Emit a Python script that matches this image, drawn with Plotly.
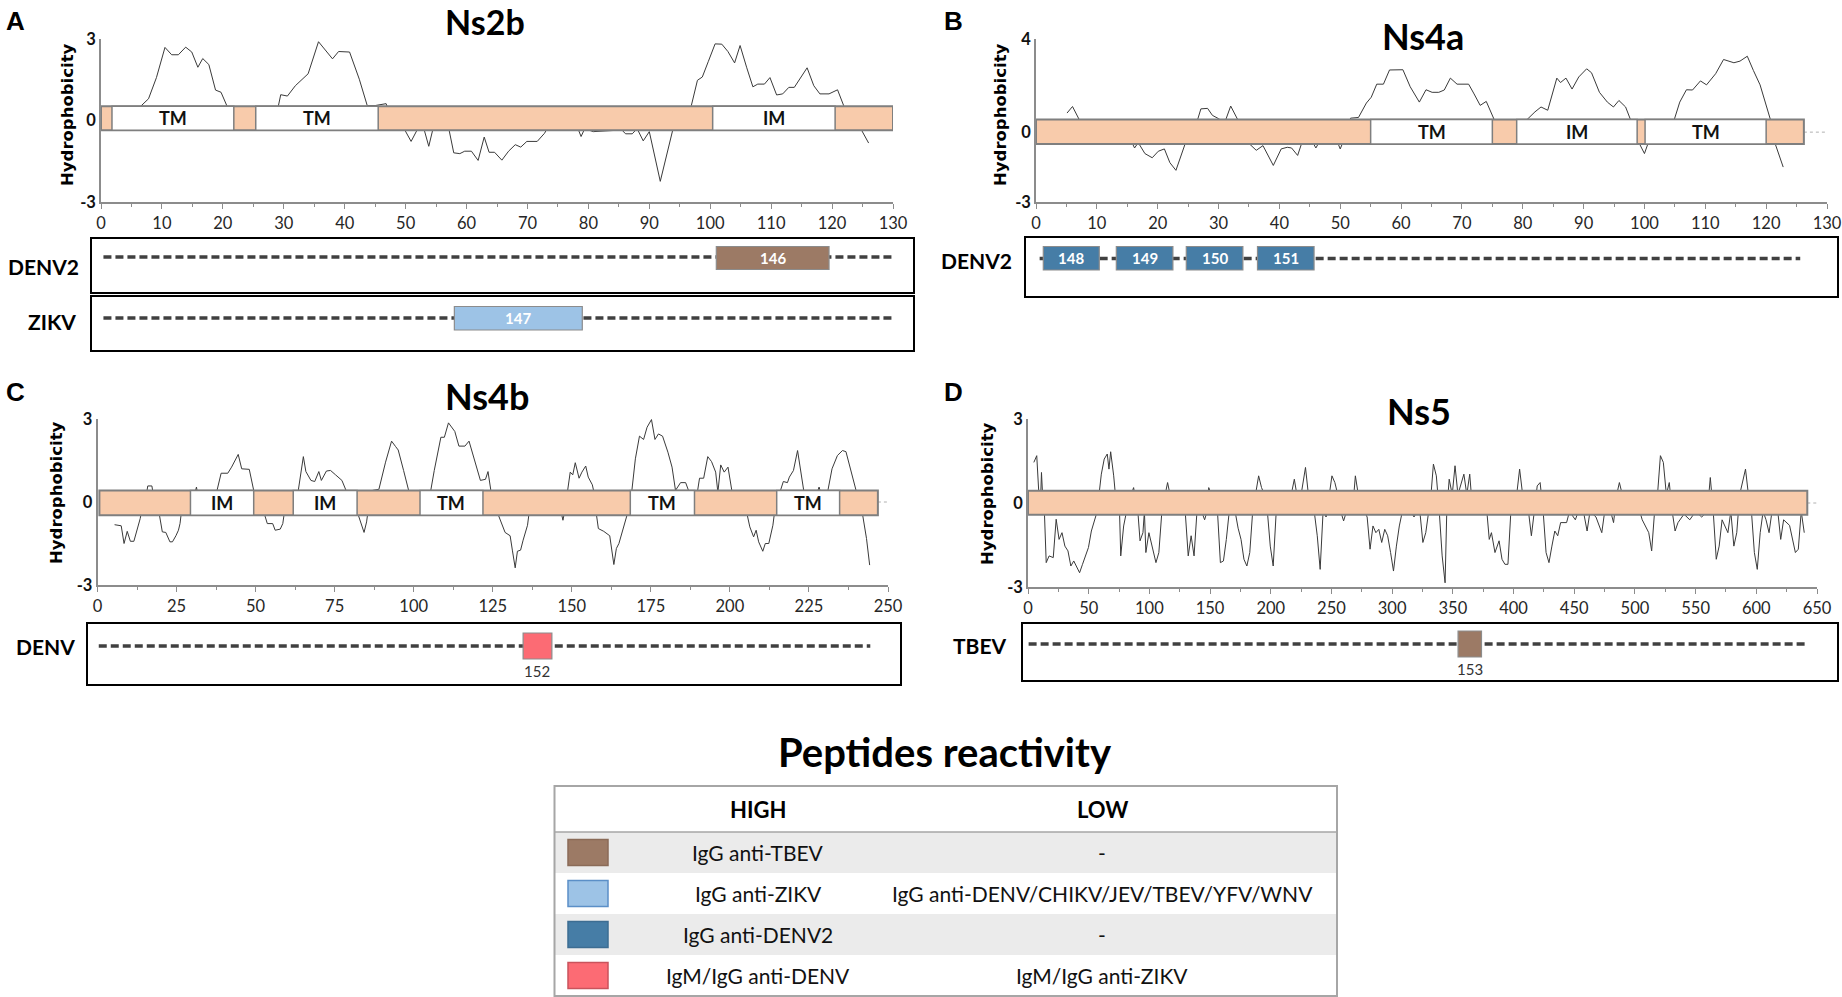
import plotly.graph_objects as go

W, H = 1842, 997

# ---------------- data ----------------
PANEL_TITLES = ["Ns2b", "Ns4a", "Ns4b", "Ns5"]
PANEL_LETTERS = ["A", "B", "C", "D"]
X_MAX = [130, 130, 250, 650]
X_MAJOR = [10, 10, 25, 50]
Y_MIN = [-3, -3, -3, -3]
Y_MAX = [3, 4, 3, 3]

NS2B_PROFILE = [(5, 0.2), (6.8, 0.59), (7.8, 0.8), (9.1, 1.58), (10.5, 2.69), (11.6, 2.42), (12.7, 2.42),
                (13.9, 2.7), (14.9, 2.52), (15.9, 1.96), (16.7, 2.28), (17.7, 2.06), (18.8, 1.12), (19.7, 1.04),
                (20.7, 0.52), (21.5, 0.2), (25, 0.1), (28.5, 0.3), (29.1, 0.52), (29.5, 0.95), (30.6, 0.9),
                (31.9, 1.28), (34, 1.72), (35.7, 2.9), (38, 2.27), (39, 2.54), (40.8, 2.52), (42.4, 1.52),
                (43.7, 0.55), (45, 0.55), (46.8, 0.62), (47.5, 0.2), (49.5, -0.2), (50.9, -0.77), (52, -0.3),
                (53, -0.3), (53.8, -0.95), (54.5, -0.3), (57, -0.2), (57.9, -1.19), (58.9, -1.22), (59.7, -1.13),
                (60.8, -1.13), (61.9, -1.47), (62.9, -0.61), (63.7, -1.17), (64.6, -1.17), (65.8, -1.46),
                (66.9, -1.13), (68, -0.89), (68.9, -0.98), (69.9, -0.77), (71.6, -0.77), (72.8, -0.47),
                (73.5, -0.2), (78.2, -0.25), (78.8, -0.59), (79.4, -0.3), (80.8, -0.41), (85.5, -0.35),
                (86.1, -0.49), (87.2, -0.49), (88, -0.3), (89, -0.75), (90, -0.41), (91.8, -2.24), (93.9, -0.3),
                (96, 0.2), (96.9, 0.55), (97.9, 1.48), (98.7, 1.6), (99.7, 2.18), (100.8, 2.82), (101.9, 2.81),
                (102.9, 2.54), (104, 2.12), (104.9, 2.76), (106, 1.94), (107, 1.24), (107.8, 1.34), (108.9, 1.34),
                (109.8, 1.58), (110.9, 0.94), (111.9, 0.98), (112.9, 1.22), (113.8, 1.22), (115.9, 1.94),
                (117, 1.28), (118, 0.98), (119.5, 0.98), (120.9, 1.13), (121.9, 0.55), (123, 0.1), (124.7, -0.3),
                (126, -0.83)]

NS4A_PROFILE = [(5.1, 0.82), (6.0, 1.1), (7.1, 0.54), (8, 0.2), (12, 0), (15.5, -0.3), (16.2, -0.68),
                (16.8, -0.45), (17.9, -0.92), (19.1, -1.10), (20.1, -0.82), (21.1, -0.72), (22, -1.31),
                (23, -1.64), (24.5, -0.51), (25, -0.2), (26.4, 0.4), (27.1, 1.0), (28.2, 1.02), (29, 0.72),
                (30, 0.58), (31, 0.4), (32, 1.12), (33, 0.63), (33.5, 0.4), (34.8, -0.3), (35.1, -0.51),
                (36.2, -0.78), (37.3, -0.58), (39, -1.43), (40.3, -0.72), (41.3, -0.65), (42, -0.68), (43, -1.0),
                (43.7, -0.45), (44.5, -0.3), (45.5, -0.45), (46, -0.68), (46.6, -0.4), (49.5, -0.4), (50, -0.72),
                (50.5, -0.4), (51.5, 0.45), (51.7, 0.6), (53, 0.63), (54.3, 1.25), (55.1, 1.5), (56, 2.06),
                (57.1, 2.06), (58.1, 2.67), (60.3, 2.68), (61.5, 1.95), (63, 1.29), (64.1, 1.82), (65.1, 1.71),
                (66.2, 1.71), (67.1, 1.81), (68.1, 2.32), (69.2, 2.06), (71.1, 2.06), (72, 1.64), (73, 1.15),
                (74, 1.32), (75.3, 0.54), (78, 0.1), (80.7, 0.54), (82, 0.87), (83, 1.08), (84.1, 0.94),
                (84.9, 1.67), (85.6, 2.32), (86.2, 2.13), (87.1, 2.32), (88.1, 1.85), (89.2, 2.37), (90.5, 2.72),
                (91.3, 2.55), (92.6, 1.71), (93.9, 1.29), (94.9, 1.08), (95.8, 1.36), (96.9, 1.08), (97.7, 0.54),
                (98.6, -0.3), (99.2, -0.51), (100, -0.92), (100.7, -0.4), (103, 0.1), (104.9, 0.54), (105.8, 1.29),
                (106.9, 1.82), (107.9, 1.81), (109.2, 2.2), (110.2, 2.03), (111.7, 2.51), (113, 3.12),
                (114.7, 2.98), (115.7, 3.05), (116.9, 3.26), (117.9, 2.65), (119, 2.03), (120.7, 0.54),
                (121.3, -0.3), (121.5, -0.51), (122.8, -1.5)]

NS4B_PROFILE = [(5.4, -0.82), (7.5, -0.86), (8.4, -1.5), (9.4, -1.06), (10.4, -1.42), (11.5, -1.42),
                (13.5, -0.6), (14, -0.3), (15.5, 0.3), (15.9, 0.58), (17.2, 0.58), (17.6, 0.3), (19, -0.3),
                (19.6, -0.48), (20.5, -1.08), (21.6, -1.1), (22.9, -1.44), (23.7, -1.44), (24.8, -1.22),
                (25.6, -1.02), (26.1, -0.78), (26.6, -0.3), (30.5, 0.2), (31.3, 0.54), (31.8, 0.2), (35, -0.2),
                (37.5, 0.3), (37.8, 0.42), (39.1, 1.04), (41.2, 1.04), (42.4, 1.26), (44.5, 1.72), (45.6, 1.2),
                (48, 1.18), (49.4, 0.42), (51, 0), (52.9, -0.48), (53.7, -0.78), (55.4, -0.78), (56.2, -1.02),
                (57.8, -0.98), (58.6, -0.78), (59.2, -0.3), (62, 0.1), (63.5, 0.42), (65.1, 1.64), (65.9, 1.1),
                (67.5, 0.78), (68.7, 0.74), (70, 1.1), (70.8, 0.78), (72.4, 1.12), (73.7, 1.14), (75.3, 0.98),
                (77.3, 0.78), (78.6, 0.42), (81, 0), (82.5, -0.48), (84.3, -1.1), (85.1, -0.72), (85.6, -0.3),
                (87, 0.42), (89, 0.46), (91.1, 1.44), (93, 2.2), (94.3, 2.0), (95.1, 1.88), (96.8, 1.14),
                (98.4, 0.42), (101, 0.1), (104, 0.2), (105.4, 0.42), (106.5, 1.14), (108.6, 2.34), (109.7, 2.34),
                (111, 2.86), (113, 2.55), (114.3, 2.02), (116.2, 2.02), (117.5, 2.2), (119.2, 1.5), (121.1, 0.78),
                (122.7, 0.82), (123.5, 1.1), (124.4, 0.42), (125.5, 0), (126.8, -0.48), (128.9, -1.1),
                (130.5, -1.22), (131.2, -1.74), (132.1, -2.38), (132.8, -1.78), (133.8, -1.74), (134.6, -1.38),
                (136, -0.84), (136.6, -0.3), (142, 0), (146.5, -0.3), (147.2, -0.66), (147.8, -0.3), (148.7, 0.42),
                (149.5, 1.08), (150.3, 0.98), (151.1, 1.42), (152.3, 0.86), (153.2, 1.08), (154.4, 1.3),
                (155.2, 0.9), (156.5, 0.62), (157.1, 0.3), (157.6, -0.3), (158.4, -0.96), (160.1, -1.06),
                (162, -1.22), (163.3, -2.26), (164.1, -1.68), (164.9, -1.5), (166.6, -0.84), (167.9, -0.3),
                (169, 0.42), (170.1, 1.56), (171.4, 2.38), (172.7, 2.26), (173.8, 2.7), (175.2, 2.98),
                (176.3, 2.26), (177.4, 2.46), (178.7, 2.38), (180.4, 1.8), (181.7, 1.26), (182.8, 0.42),
                (184.4, 0.7), (186, 0.7), (187.3, 0.3), (189.2, 0.3), (189.8, 0.42), (190.4, 0.86), (191.7, 0.86),
                (193, 1.64), (194.2, 1.46), (195.5, 1.08), (196.2, 0.35), (197.1, 1.34), (198.2, 1.08),
                (199.4, 1.26), (200.6, 0.42), (203, 0), (205.5, -0.48), (206.3, -0.9), (207.5, -1.26),
                (208.3, -1.02), (209.1, -1.44), (210.4, -1.78), (211.2, -1.5), (212.3, -1.5), (213.6, -0.84),
                (214.2, -0.3), (215.5, 0.3), (216, 0.42), (216.9, 0.74), (218.2, 0.7), (218.8, 0.9), (220.1, 1.14),
                (221.4, 1.86), (222.6, 0.96), (223.5, 0.3), (227.5, 0.3), (228.2, 0.54), (228.8, 0.3), (230.5, 0.3),
                (231, 0.42), (232.3, 1.2), (234, 1.68), (235.6, 1.86), (236.7, 1.82), (238.8, 0.84), (239.9, 0.42),
                (241, 0), (242, -0.48), (243.2, -1.32), (244.2, -2.28)]

NS5_PROFILE = [(4.8, 1.45), (7.2, 1.69), (9, 0.3), (10.5, 0.3), (11.1, 1.09), (12, 0.3), (13.5, -0.3),
               (15, -2.13), (17.4, -1.89), (20.8, -1.95), (23.2, -0.58), (25.6, -1.3), (28, -1.06), (30.4, -1.54),
               (32.9, -1.71), (35.3, -2.25), (37.7, -2.07), (40.1, -2.31), (42.5, -2.49), (44.9, -2.19),
               (49.8, -1.59), (52.2, -1.0), (56.1, -0.46), (57, -0.3), (58.5, 0.3), (60.4, 1.03), (62.8, 1.57),
               (65.3, 1.75), (66.7, 1.21), (68.1, 1.83), (70.6, 0.97), (72, 0.3), (75.4, -0.3), (76.4, -1.89),
               (78.8, -0.82), (81.2, -0.3), (85, 0.3), (87, 0.55), (88, 0.3), (90.5, -0.3), (92.3, -1.35),
               (94.7, -1.06), (95.9, -0.3), (97.1, -1.77), (99.6, -1.06), (102, -1.47), (105.4, -2.13),
               (107.8, -1.77), (110.3, -0.3), (113, 0.3), (115, 0.73), (117, 0.3), (129.5, -0.3), (132, -1.89),
               (134.4, -1.17), (136.8, -1.89), (139.2, -0.3), (143, -0.3), (145.5, -0.6), (147.5, -0.3),
               (148.9, 0.55), (151, 0.3), (156.1, -0.3), (158.5, -2.13), (161, -2.07), (163.4, -1.3),
               (165.8, -0.3), (170.6, -0.3), (173.1, -0.9), (175.5, -1.3), (177.9, -2.01), (180.3, -2.25),
               (182.7, -1.77), (185.1, -0.3), (187.5, 0.3), (190, 0.97), (192.4, 0.55), (194.8, 0.3),
               (197.2, -0.3), (199.6, -1.54), (202, -2.25), (204.5, -0.3), (206.9, 0.3), (211.7, 0.3),
               (214.1, -0.3), (216.6, 0.3), (219.4, 0.85), (221.5, 0.3), (225, 0.3), (228.6, 1.27), (231, 0.3),
               (235.8, -0.3), (238.3, -1.17), (240.7, -2.37), (243.1, -0.3), (245.6, -0.5), (248, 0.3),
               (250.4, 0.97), (252.8, 0.73), (255.2, 0.3), (257.6, -0.3), (260, -0.64), (262.4, -0.3),
               (264.9, 0.3), (267.3, -0.3), (269.7, 0.97), (272.1, 0.3), (277, -0.3), (279.4, -0.5),
               (281.8, -1.65), (284.2, -0.82), (286.6, -1.06), (289, -0.94), (291.4, -1.41), (293.9, -0.94),
               (296.3, -1.17), (298.7, -1.77), (301.1, -2.43), (303.5, -1.54), (305.9, -0.82), (308.4, -0.3),
               (313.2, 0.3), (315.6, -0.3), (318, -0.5), (320.4, -0.3), (322.8, -0.3), (325.3, -1.41),
               (327.7, -1.06), (330.1, -0.3), (332, 0.3), (334, 1.39), (336.4, 0.97), (338.8, -0.3),
               (341.2, -1.89), (343.6, -2.85), (345, -0.3), (347, 0.85), (349.5, 0.3), (351.8, 1.33),
               (354.2, 0.3), (359.1, 1.03), (361.5, 0.3), (363.9, 1.03), (366.3, -0.3), (378, -0.3), (380, -1.3),
               (381.8, -1.06), (384.7, -1.77), (388.1, -1.35), (390.5, -2.01), (392.9, -2.19), (395.4, -2.19),
               (397.8, -0.3), (402.6, 0.3), (405, 1.21), (407.5, 0.3), (412.3, -0.3), (414.7, -1.17),
               (417.1, -0.3), (419.5, 0.61), (421.9, 0.73), (424.4, -0.3), (426.8, -1.77), (429.2, -2.13),
               (431.6, -1.54), (434, -1.0), (436.4, -1.17), (438.8, -0.7), (443.7, -0.7), (446.1, -0.3),
               (450.9, -0.6), (453.4, -0.3), (458, -0.4), (460.6, -1.0), (463, -0.3), (467.9, -0.5),
               (472.7, -1.06), (475.1, -0.3), (480, -0.3), (482.4, -0.7), (485, 0.3), (487.2, 0.73),
               (489.6, 0.3), (494.4, 0.3), (496.8, -0.3), (499, 0.3), (504, -0.3), (506, -0.6), (511.4, -1.06),
               (513.8, -1.71), (516.2, -0.3), (518.6, 0.3), (521, 1.69), (523.4, 1.45), (525.9, 0.3),
               (528.3, 0.73), (530.7, -0.3), (533.1, -1.0), (535.5, -0.7), (540.4, -0.4), (545.2, -0.6),
               (550, -0.3), (555, -0.5), (559.7, -0.3), (562.1, 0.91), (564.5, -0.3), (567, -2.01),
               (569.4, -1.54), (571.8, -0.6), (576.6, -1.06), (579, -0.3), (581.5, -1.54), (583.9, -1.06),
               (586.3, 0.3), (591.1, 1.21), (593.5, 0.3), (596, -0.3), (598.4, -1.77), (600.8, -2.37),
               (603.2, -1.06), (605.6, -0.3), (608, -0.6), (610.5, -1.06), (612.9, -0.3), (617.7, -0.3),
               (620.1, -1.3), (622.5, -0.6), (627.4, -0.8), (632.2, -1.77), (634.6, -1.65), (637, -0.3),
               (639.5, -1.06)]

PROFILES = [NS2B_PROFILE, NS4A_PROFILE, NS4B_PROFILE, NS5_PROFILE]

# protein extent (start, end) and membrane domains (start, end, label)
PROTEIN_EXTENT = [(0, 130), (0, 126.2), (0.6, 246.8), (0, 642)]
DOMAINS = [
    [(1.8, 21.8, "TM"), (25.4, 45.5, "TM"), (100.4, 120.5, "IM")],
    [(55, 75, "TM"), (79, 98.8, "IM"), (100.1, 120, "TM")],
    [(29.4, 49.4, "IM"), (61.9, 82.1, "IM"), (102, 121.9, "TM"), (168.5, 188.8, "TM"), (214.8, 234.7, "TM")],
    [],
]

# peptide tracks: (virus, dashed-line start, end, [(peptide id, start, end, reactivity group)])
TRACKS = [
    [("DENV2", 0.4, 130, [("146", 101, 119.5, 0)]),
     ("ZIKV", 0.4, 130, [("147", 58, 79, 1)])],
    [("DENV2", 0.6, 125.6, [("148", 1.2, 10.4, 2), ("149", 13.2, 22.5, 2),
                             ("150", 24.7, 34, 2), ("151", 36.4, 45.7, 2)])],
    [("DENV", 0.4, 244.4, [("152", 134.6, 143.7, 3)])],
    [("TBEV", 0.5, 642, [("153", 354.3, 373.6, 0)])],
]

LEGEND_TITLE = "Peptides reactivity"
LEGEND_HEADER = ["HIGH", "LOW"]
GROUP_HIGH = ["IgG anti-TBEV", "IgG anti-ZIKV", "IgG anti-DENV2", "IgM/IgG anti-DENV"]
GROUP_LOW = ["-", "IgG anti-DENV/CHIKV/JEV/TBEV/YFV/WNV", "-", "IgM/IgG anti-ZIKV"]

# ---------------- styles / positions (pixels of the 1842x997 page) ----------------
GROUP_COLORS = ["#9c7a65", "#9dc3e6", "#467da6", "#fc6b74"]
GROUP_BORDERS = ["#8a6b58", "#5b8fc7", "#3d6d92", "#c9535c"]
ORANGE = "#f8cbab"
BAR_EDGE = "#7f7f7f"
AXIS_C = "#8c8c8c"
LATO = "Lato, 'Open Sans', sans-serif"
DEJA = "'DejaVu Sans', Verdana, sans-serif"
ARIAL = "'Liberation Sans', Arial, sans-serif"

AX_PX = [(101, 893, 39, 202), (1036, 1827, 39, 202), (97.5, 888, 419, 585), (1028, 1817, 419, 587)]
BAND = [(-0.36, 0.52), (-0.51, 0.54), (-0.48, 0.42), (-0.42, 0.44)]
TITLE_PX = [(485, 21), (1423, 36), (487, 396), (1419, 411)]
TITLE_SIZE = [34, 36, 36, 36]
LETTER_PX = [(15, 21), (953, 21), (15, 392), (953, 392)]
YTITLE_PX = [(67, 115), (1000, 115), (57, 493), (987, 494)]
# per track: frame (x0,x1,y0,y1), dash y, box y0, y1, label xy
TRACK_PX = [
    [((91, 914, 238, 293), 257, 246.5, 269.5, (43, 266)),
     ((91, 914, 296, 351), 318, 306.5, 330, (52, 321))],
    [((1025, 1838, 237, 297), 258.5, 246.5, 270, (976, 260))],
    [((87, 901, 623, 685), 646, 633, 659, (45, 646))],
    [((1022, 1838, 623, 681), 644, 631, 657, (980, 645))],
]
PEP_INSIDE = [True, True, False, False]

TABLE_X = (554.5, 1337)
TABLE_ROWS = [786, 832, 873, 914, 955, 996]
COL_CENTERS = (758, 1102)
SWATCH_X = (568, 608)


def fx(p):
    return p / W


def fy(p):
    return 1 - p / H


def text(x, y, s, font, xref="paper", yref="paper", angle=0):
    return dict(x=x, y=y, xref=xref, yref=yref, text=s, showarrow=False, textangle=angle,
                xanchor="center", yanchor="middle", font=font)


fig = go.Figure()
shapes = []
annotations = []
layout_axes = {}

for i in range(4):
    n = i + 1
    xa = "x" if n == 1 else f"x{n}"
    ya = "y" if n == 1 else f"y{n}"
    x0p, x1p, y0p, y1p = AX_PX[i]
    prof = PROFILES[i]
    fig.add_trace(go.Scatter(
        x=[p[0] for p in prof], y=[p[1] for p in prof], mode="lines",
        line=dict(color="#3a3a3a", width=1), xaxis=xa, yaxis=ya,
        showlegend=False, hoverinfo="skip"))

    xmax = X_MAX[i]
    major = X_MAJOR[i]
    layout_axes["xaxis" + ("" if n == 1 else str(n))] = dict(
        domain=[fx(x0p), fx(x1p)], range=[0, xmax], anchor=ya, automargin=False,
        showline=True, linecolor=AXIS_C, linewidth=1.5, showgrid=False, zeroline=False,
        ticks="outside", ticklen=5, tickcolor=AXIS_C, tickwidth=1,
        tickvals=list(range(0, xmax + 1, major)),
        minor=dict(ticks="outside", ticklen=3, tickcolor=AXIS_C, dtick=major / 2, tick0=0, showgrid=False),
        tickfont=dict(family=LATO, size=16.5, color="#262626"), fixedrange=True)
    layout_axes["yaxis" + ("" if n == 1 else str(n))] = dict(
        domain=[fy(y1p), fy(y0p)], range=[Y_MIN[i], Y_MAX[i]], anchor=xa, automargin=False,
        showline=True, linecolor=AXIS_C, linewidth=1.5, showgrid=False, zeroline=False,
        ticks="", tickvals=[Y_MAX[i], 0, Y_MIN[i]],
        ticktext=[str(Y_MAX[i]), "0", "-3"],
        tickfont=dict(family=LATO, size=16.5, color="#111", weight="bold"), fixedrange=True)

    # dotted zero line past the protein end
    p0, p1 = PROTEIN_EXTENT[i]
    if p1 < xmax:
        shapes.append(dict(type="line", xref=xa, yref=ya, x0=p1, x1=xmax, y0=0, y1=0,
                           line=dict(color="#b0b0b0", width=1, dash="dot"), layer="above"))
    lo, hi = BAND[i]
    shapes.append(dict(type="rect", xref=xa, yref=ya, x0=p0, x1=p1, y0=lo, y1=hi,
                       fillcolor=ORANGE, line=dict(color=BAR_EDGE, width=2), layer="above"))
    for (d0, d1, lab) in DOMAINS[i]:
        shapes.append(dict(type="rect", xref=xa, yref=ya, x0=d0, x1=d1, y0=lo, y1=hi,
                           fillcolor="white", line=dict(color=BAR_EDGE, width=1.5), layer="above"))
        annotations.append(text((d0 + d1) / 2, (lo + hi) / 2, f"<b>{lab}</b>",
                                dict(family=LATO, size=18, color="#111"), xref=xa, yref=ya))

    # titles and labels
    tx, ty = TITLE_PX[i]
    annotations.append(text(fx(tx), fy(ty), f"<b>{PANEL_TITLES[i]}</b>",
                            dict(family=LATO, size=TITLE_SIZE[i], color="#000")))
    lx, ly = LETTER_PX[i]
    annotations.append(text(fx(lx), fy(ly), f"<b>{PANEL_LETTERS[i]}</b>",
                            dict(family=ARIAL, size=26, color="#000")))
    hx, hy = YTITLE_PX[i]
    annotations.append(text(fx(hx), fy(hy), "<b>Hydrophobicity</b>",
                            dict(family=DEJA, size=16.5, color="#000"), angle=-90))

    # peptide tracks
    for (virus, ds, de, peps), (frame, dy, by0, by1, (lbx, lby)) in zip(TRACKS[i], TRACK_PX[i]):
        fx0, fx1, fy0, fy1 = frame
        shapes.append(dict(type="rect", xref="paper", yref="paper", x0=fx(fx0), x1=fx(fx1),
                           y0=fy(fy1), y1=fy(fy0), fillcolor="white",
                           line=dict(color="#000", width=2), layer="below"))
        shapes.append(dict(type="line", xref=xa, yref="paper", x0=ds, x1=de, y0=fy(dy), y1=fy(dy),
                           line=dict(color="#404040", width=3.5, dash="8px,4px"), layer="above"))
        annotations.append(text(fx(lbx), fy(lby), f"<b>{virus}</b>",
                                dict(family=LATO, size=21, color="#000")))
        for (pid, s, e, g) in peps:
            shapes.append(dict(type="rect", xref=xa, yref="paper", x0=s, x1=e, y0=fy(by1), y1=fy(by0),
                               fillcolor=GROUP_COLORS[g], line=dict(color="#8c8c8c", width=1.2),
                               layer="above"))
            if PEP_INSIDE[i]:
                annotations.append(text((s + e) / 2, fy((by0 + by1) / 2), f"<b>{pid}</b>",
                                        dict(family=LATO, size=15, color="white"), xref=xa))
            else:
                annotations.append(text((s + e) / 2, fy(by1 + 12), pid,
                                        dict(family=LATO, size=15, color="#333"), xref=xa))

# ---------------- legend table ----------------
annotations.append(text(fx(945), fy(752), f"<b>{LEGEND_TITLE}</b>", dict(family=LATO, size=40, color="#000")))
tx0, tx1 = TABLE_X
for r in range(5):
    ry0, ry1 = TABLE_ROWS[r], TABLE_ROWS[r + 1]
    fill = "#ebebeb" if r in (1, 3) else "white"
    shapes.append(dict(type="rect", xref="paper", yref="paper", x0=fx(tx0), x1=fx(tx1),
                       y0=fy(ry1), y1=fy(ry0), fillcolor=fill, line=dict(width=0), layer="below"))
shapes.append(dict(type="line", xref="paper", yref="paper", x0=fx(tx0), x1=fx(tx1),
                   y0=fy(TABLE_ROWS[1]), y1=fy(TABLE_ROWS[1]), line=dict(color="#a6a6a6", width=1.5)))
shapes.append(dict(type="rect", xref="paper", yref="paper", x0=fx(tx0), x1=fx(tx1),
                   y0=fy(TABLE_ROWS[-1]), y1=fy(TABLE_ROWS[0]), line=dict(color="#a6a6a6", width=2)))
hy = (TABLE_ROWS[0] + TABLE_ROWS[1]) / 2
for hdr, cx in zip(LEGEND_HEADER, COL_CENTERS):
    annotations.append(text(fx(cx), fy(hy), f"<b>{hdr}</b>", dict(family=LATO, size=22, color="#000")))
for g in range(4):
    cy = (TABLE_ROWS[g + 1] + TABLE_ROWS[g + 2]) / 2
    shapes.append(dict(type="rect", xref="paper", yref="paper", x0=fx(SWATCH_X[0]), x1=fx(SWATCH_X[1]),
                       y0=fy(cy + 13), y1=fy(cy - 13), fillcolor=GROUP_COLORS[g],
                       line=dict(color=GROUP_BORDERS[g], width=1.5)))
    annotations.append(text(fx(COL_CENTERS[0]), fy(cy), GROUP_HIGH[g], dict(family=LATO, size=21, color="#111")))
    annotations.append(text(fx(COL_CENTERS[1]), fy(cy), GROUP_LOW[g], dict(family=LATO, size=21, color="#111")))

fig.update_layout(
    width=W, height=H, autosize=False,
    margin=dict(l=0, r=0, t=0, b=0, pad=0),
    paper_bgcolor="white", plot_bgcolor="rgba(0,0,0,0)",
    showlegend=False, shapes=shapes, annotations=annotations,
    **layout_axes)

fig.write_html("out.html", config={"displayModeBar": False},
               post_script="document.body.style.margin='0px';document.body.style.overflow='hidden';")
